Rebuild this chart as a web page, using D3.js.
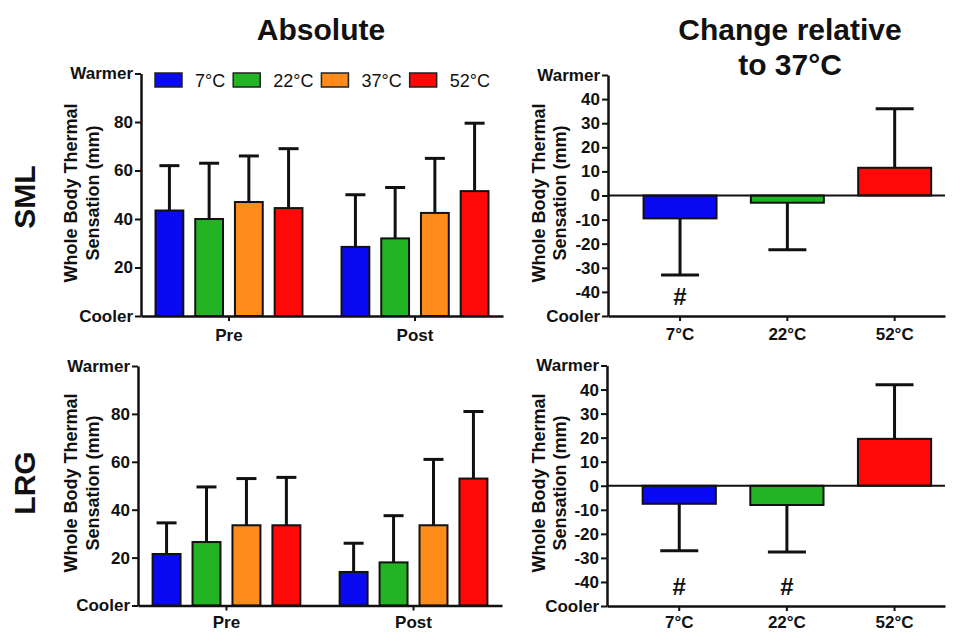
<!DOCTYPE html>
<html>
<head>
<meta charset="utf-8">
<script src="https://cdn.jsdelivr.net/npm/d3@7.9.0/dist/d3.min.js"></script>
<style>
  body { margin: 0; background: #fff; }
  text { font-family: "Liberation Sans", Arial, sans-serif; fill: #111; }
</style>
</head>
<body>
<svg id="chart" width="964" height="633"></svg>
<script>
// categories
const temps = ['7°C', '22°C', '37°C', '52°C'];
const changeTemps = ['7°C', '22°C', '52°C'];
const phases = ['Pre', 'Post'];
const colors = { '7°C': '#0a0af2', '22°C': '#22b422', '37°C': '#ff8c1a', '52°C': '#ff0808' };

// SML absolute (mm), mean and SD per temperature
const smlPre = [43.5, 40, 47, 44.5];
const smlPreSD = [18.5, 23, 19, 24.5];
const smlPost = [28.5, 32, 42.5, 51.5];
const smlPostSD = [21.5, 21, 22.5, 28];

// LRG absolute (mm)
const lrgPre = [21.5, 26.5, 33.5, 33.5];
const lrgPreSD = [13, 23, 19.5, 20];
const lrgPost = [14, 18, 33.5, 53];
const lrgPostSD = [12, 19.5, 27.5, 28];

// change relative to 37°C (mm)
const smlChange = [-9.5, -3, 11.5];
const smlChangeSD = [23.5, 19.5, 24.5];
const lrgChange = [-7.5, -8, 19.5];
const lrgChangeSD = [19.5, 19.5, 22.5];

// significance (#) markers
const smlSig = ['7°C'];
const lrgSig = ['7°C', '22°C'];

const absTicks = [0, 20, 40, 60, 80, 100];
const changeTicks = [-50, -40, -30, -20, -10, 0, 10, 20, 30, 40, 50];

const svg = d3.select('#chart');

function tickName(d, lo, hi) {
  if (d === hi) return 'Warmer';
  if (d === lo) return 'Cooler';
  return d;
}

function yTitle(g, x1, x2, yc) {
  [['Whole Body Thermal', x1], ['Sensation (mm)', x2]].forEach(([t, x]) => {
    g.append('text')
      .attr('transform', `translate(${x},${yc}) rotate(-90)`)
      .attr('text-anchor', 'middle')
      .style('font-size', '18px').style('font-weight', 'bold')
      .text(t);
  });
}

function yAxis(g, y, ticks, left) {
  const lo = ticks[0], hi = ticks[ticks.length - 1];
  const ax = g.append('g')
    .attr('transform', `translate(${left},0)`)
    .call(d3.axisLeft(y).tickValues(ticks).tickSize(6).tickSizeOuter(0).tickPadding(2)
      .tickFormat(d => tickName(d, lo, hi)));
  ax.select('.domain').attr('stroke', '#111').attr('stroke-width', 2.5);
  ax.selectAll('.tick line').attr('stroke', '#111').attr('stroke-width', 2);
  ax.selectAll('.tick text')
    .style('font-size', '17px').style('font-weight', 'bold').attr('fill', '#111');
}

function errorBar(g, cx, y, mean, sd, cap) {
  const end = mean + Math.sign(mean) * sd;
  g.append('line')
    .attr('x1', cx).attr('x2', cx).attr('y1', y(mean)).attr('y2', y(end))
    .attr('stroke', '#111').attr('stroke-width', 3);
  g.append('line')
    .attr('x1', cx - cap / 2).attr('x2', cx + cap / 2).attr('y1', y(end)).attr('y2', y(end))
    .attr('stroke', '#111').attr('stroke-width', 3);
}

function drawAbsolute(p) {
  const g = svg.append('g');
  const y = d3.scaleLinear().domain([0, 100]).range([p.bottom, p.top]);
  const x0 = d3.scaleBand().domain(phases).range([p.left, p.right])
    .paddingInner(0.21).paddingOuter(0.078);
  const x1 = d3.scaleBand().domain(temps).range([0, x0.bandwidth()])
    .paddingInner(0.3).paddingOuter(0);

  const rows = phases.map((ph, i) => ({
    phase: ph,
    vals: temps.map((t, j) => ({ temp: t, mean: p.means[i][j], sd: p.sds[i][j] }))
  }));

  rows.forEach(r => {
    r.vals.forEach(v => {
      const bx = x0(r.phase) + x1(v.temp);
      errorBar(g, bx + x1.bandwidth() / 2, y, v.mean, v.sd, 20);
      g.append('rect')
        .attr('x', bx).attr('y', y(v.mean))
        .attr('width', x1.bandwidth()).attr('height', y(0) - y(v.mean))
        .attr('fill', colors[v.temp]).attr('stroke', '#111').attr('stroke-width', 2);
    });
  });

  const xa = g.append('g')
    .attr('transform', `translate(0,${p.bottom})`)
    .call(d3.axisBottom(x0).tickSize(5).tickSizeOuter(0).tickPadding(p.pad));
  xa.select('.domain').attr('stroke', '#111').attr('stroke-width', 2.5);
  xa.selectAll('.tick line').attr('stroke', '#111').attr('stroke-width', 2);
  xa.selectAll('.tick text').style('font-size', '17px').style('font-weight', 'bold').attr('fill', '#111');

  yAxis(g, y, absTicks, p.left);
  yTitle(g, 77, 99, p.yc);
}

function drawChange(p) {
  const g = svg.append('g');
  const y = d3.scaleLinear().domain([-50, 50]).range([p.bottom, p.top]);
  const x = d3.scaleBand().domain(changeTemps).range([p.left, p.right])
    .paddingInner(0.32).paddingOuter(0.23).align(0.72);

  const vals = changeTemps.map((t, j) => ({ temp: t, mean: p.means[j], sd: p.sds[j] }));

  vals.forEach(v => {
    errorBar(g, x(v.temp) + x.bandwidth() / 2, y, v.mean, v.sd, 38);
    g.append('rect')
      .attr('x', x(v.temp)).attr('y', y(Math.max(0, v.mean)))
      .attr('width', x.bandwidth()).attr('height', Math.abs(y(v.mean) - y(0)))
      .attr('fill', colors[v.temp]).attr('stroke', '#111').attr('stroke-width', 2);
  });

  // zero line
  g.append('line')
    .attr('x1', p.left).attr('x2', p.right).attr('y1', y(0)).attr('y2', y(0))
    .attr('stroke', '#111').attr('stroke-width', 2);

  // significance markers
  g.selectAll('text.sig').data(p.sig).join('text')
    .attr('class', 'sig')
    .attr('x', d => x(d) + x.bandwidth() / 2).attr('y', y(-42))
    .attr('dy', '0.36em').attr('text-anchor', 'middle')
    .style('font-size', '24px').style('font-weight', 'bold')
    .text('#');

  const xa = g.append('g')
    .attr('transform', `translate(0,${p.bottom})`)
    .call(d3.axisBottom(x).tickSize(5).tickSizeOuter(0).tickPadding(p.pad));
  xa.select('.domain').attr('stroke', '#111').attr('stroke-width', 2.5);
  xa.selectAll('.tick line').attr('stroke', '#111').attr('stroke-width', 2);
  xa.selectAll('.tick text').style('font-size', '17px').style('font-weight', 'bold').attr('fill', '#111');

  yAxis(g, y, changeTicks, p.left);
  yTitle(g, 545, 566, p.yc);
}

drawAbsolute({ left: 141, right: 503, top: 73.5, bottom: 316, yc: 193, pad: 8,
  means: [smlPre, smlPost], sds: [smlPreSD, smlPostSD] });
drawAbsolute({ left: 138, right: 502, top: 366, bottom: 605.5, yc: 483, pad: 5,
  means: [lrgPre, lrgPost], sds: [lrgPreSD, lrgPostSD] });
drawChange({ left: 608, right: 945, top: 75, bottom: 316, yc: 193, pad: 7,
  means: smlChange, sds: smlChangeSD, sig: smlSig });
drawChange({ left: 607, right: 945, top: 365.5, bottom: 606, yc: 483, pad: 5,
  means: lrgChange, sds: lrgChangeSD, sig: lrgSig });

// legend
const legend = svg.append('g').attr('transform', 'translate(155,73)');
let lx = 0;
temps.forEach(t => {
  legend.append('rect')
    .attr('x', lx).attr('y', 0).attr('width', 27).attr('height', 14)
    .attr('fill', colors[t]).attr('stroke', '#222').attr('stroke-width', 1.5);
  const txt = legend.append('text')
    .attr('x', lx + 40).attr('y', 14)
    .style('font-size', '18px')
    .text(t);
  lx += 40 + txt.node().getComputedTextLength() + 8;
});

// titles
svg.append('text').attr('x', 321).attr('y', 40).attr('text-anchor', 'middle')
  .style('font-size', '30px').style('font-weight', 'bold').text('Absolute');
svg.append('text').attr('x', 790).attr('y', 40).attr('text-anchor', 'middle')
  .style('font-size', '30px').style('font-weight', 'bold').text('Change relative');
svg.append('text').attr('x', 790).attr('y', 75).attr('text-anchor', 'middle')
  .style('font-size', '30px').style('font-weight', 'bold').text('to 37°C');

// row labels
[['SML', 197], ['LRG', 483]].forEach(([t, yc]) => {
  svg.append('text')
    .attr('transform', `translate(35,${yc}) rotate(-90)`)
    .attr('text-anchor', 'middle')
    .style('font-size', '30px').style('font-weight', 'bold')
    .text(t);
});
</script>
</body>
</html>
